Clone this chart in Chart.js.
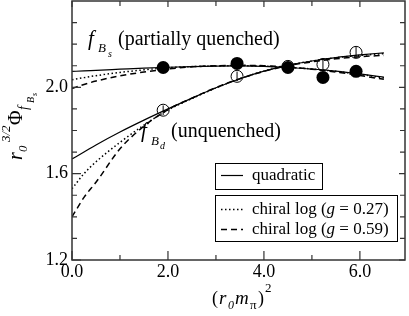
<!DOCTYPE html>
<html lang="en">
<head>
  <meta charset="UTF-8" />
  <title>fB chiral extrapolation</title>
  <script src="https://cdn.jsdelivr.net/npm/chart.js"></script>
  <style>
    body { margin: 0; background: #fff; }
    #wrap { width: 409px; height: 316px; }
  </style>
</head>
<body>
  <div id="wrap"><canvas id="fbChart" width="409" height="316"></canvas></div>

  <script>
    // lattice points, (r0 m_pi)^2
    const xPts = [1.90, 3.44, 4.50, 5.23, 5.92];
    const bsVals = [2.092, 2.111, 2.092, 2.046, 2.074];   // f_Bs, filled
    const bdVals = [1.894, 2.051, 2.097, 2.106, 2.162];   // f_Bd, open
    const bdErr = [0.022, 0.022, 0.022, 0.025, 0.025];

    // fit curves
    const curveX = [0, 0.25, 0.5, 1, 1.5, 2, 2.5, 3, 3.5, 4, 4.5, 5, 5.5, 6, 6.5];
    const bsQuad = [2.074, 2.076, 2.079, 2.084, 2.089, 2.093, 2.096, 2.098, 2.099, 2.097, 2.092, 2.085, 2.075, 2.062, 2.047];
    const bsDot  = [2.035, 2.045, 2.054, 2.069, 2.081, 2.091, 2.096, 2.099, 2.100, 2.098, 2.093, 2.085, 2.074, 2.060, 2.044];
    const bsDash = [1.995, 2.013, 2.029, 2.053, 2.071, 2.085, 2.095, 2.100, 2.102, 2.100, 2.094, 2.084, 2.071, 2.055, 2.037];
    const bdQuad = [1.668, 1.700, 1.733, 1.793, 1.848, 1.900, 1.950, 1.998, 2.040, 2.075, 2.102, 2.122, 2.138, 2.150, 2.160];
    const bdDot  = [1.530, 1.600, 1.655, 1.745, 1.825, 1.895, 1.948, 1.997, 2.040, 2.075, 2.102, 2.122, 2.137, 2.148, 2.156];
    const bdDash = [1.400, 1.490, 1.560, 1.715, 1.820, 1.897, 1.950, 1.999, 2.040, 2.074, 2.100, 2.118, 2.132, 2.142, 2.148];

    const xLabelTicks = [0, 2, 4, 6];
    const xMinorTicks = [1, 3, 5];
    const yLabelTicks = [1.2, 1.6, 2.0];
    const yMinorTicks = [1.3, 1.4, 1.5, 1.7, 1.8, 1.9, 2.1, 2.2, 2.3];

    const SERIF = "'Liberation Serif', 'DejaVu Serif', serif";
    const pts = (xs, ys) => xs.map((x, i) => ({ x, y: ys[i] }));

    function curve(ys, dash, width) {
      return {
        data: pts(curveX, ys), showLine: true, pointRadius: 0,
        borderColor: '#000', borderWidth: width, borderDash: dash,
        cubicInterpolationMode: 'monotone', order: 2
      };
    }

    // draw text pieces at given offsets
    function pieces(ctx, list) {
      list.forEach(p => {
        ctx.font = p.f;
        ctx.fillText(p.t, p.x, p.y);
      });
    }

    function runText(ctx, x, y, parts) {
      parts.forEach(p => {
        ctx.font = p.f;
        ctx.fillText(p.t, x, y + (p.dy || 0));
        x += ctx.measureText(p.t).width;
      });
    }

    function noPad(s) {
      s.paddingTop = 0; s.paddingBottom = 0;
      s.paddingLeft = 0; s.paddingRight = 0;
    }

    const deco = {
      id: 'deco',
      afterDatasetsDraw(chart) {
        const { ctx, scales: { x, y } } = chart;
        ctx.save();
        ctx.strokeStyle = '#000';
        ctx.lineWidth = 1;
        xPts.forEach((v, i) => {
          const px = x.getPixelForValue(v);
          ctx.beginPath();
          ctx.moveTo(px, y.getPixelForValue(bdVals[i] - bdErr[i]));
          ctx.lineTo(px, y.getPixelForValue(bdVals[i] + bdErr[i]));
          ctx.stroke();
        });
        ctx.restore();
      },
      afterDraw(chart) {
        const { ctx, chartArea: a, scales: { x, y } } = chart;
        ctx.save();
        // frame
        ctx.strokeStyle = '#333';
        ctx.lineWidth = 1.5;
        ctx.strokeRect(a.left, a.top, a.right - a.left, a.bottom - a.top);
        // inside ticks on all sides
        ctx.lineWidth = 1.2;
        ctx.beginPath();
        const xt = (v, len, lenTop) => {
          const px = x.getPixelForValue(v);
          ctx.moveTo(px, a.bottom); ctx.lineTo(px, a.bottom - len);
          ctx.moveTo(px, a.top); ctx.lineTo(px, a.top + lenTop);
        };
        const yt = (v, len, lenR) => {
          const py = y.getPixelForValue(v);
          ctx.moveTo(a.left, py); ctx.lineTo(a.left + len, py);
          ctx.moveTo(a.right, py); ctx.lineTo(a.right - lenR, py);
        };
        xLabelTicks.forEach(v => xt(v, 9, 6));
        xMinorTicks.forEach(v => xt(v, 5, 5));
        yLabelTicks.forEach(v => yt(v, 9, 6));
        yMinorTicks.forEach(v => yt(v, 5, 5));
        ctx.stroke();

        ctx.fillStyle = '#000';
        ctx.textBaseline = 'alphabetic';
        ctx.textAlign = 'left';

        // curve labels
        pieces(ctx, [
          { t: 'f', f: 'italic 21px ' + SERIF, x: 88, y: 45 },
          { t: 'B', f: 'italic 13px ' + SERIF, x: 98, y: 52 },
          { t: 's', f: 'italic 10px ' + SERIF, x: 108, y: 57 },
          { t: '(partially quenched)', f: '20px ' + SERIF, x: 118, y: 45 },
          { t: 'f', f: 'italic 21px ' + SERIF, x: 141, y: 137 },
          { t: 'B', f: 'italic 13px ' + SERIF, x: 151, y: 145 },
          { t: 'd', f: 'italic 10px ' + SERIF, x: 160, y: 149 },
          { t: '(unquenched)', f: '20px ' + SERIF, x: 171, y: 137 }
        ]);

        // x axis title
        pieces(ctx, [
          { t: '(', f: '18px ' + SERIF, x: 212, y: 304 },
          { t: 'r', f: 'italic 19px ' + SERIF, x: 219, y: 304 },
          { t: '0', f: 'italic 12px ' + SERIF, x: 228, y: 309 },
          { t: 'm', f: 'italic 19px ' + SERIF, x: 235, y: 304 },
          { t: 'π', f: '13px ' + SERIF, x: 250, y: 309 },
          { t: ')', f: '18px ' + SERIF, x: 258, y: 304 },
          { t: '2', f: '13px ' + SERIF, x: 265, y: 292 }
        ]);

        // y axis title, rotated
        ctx.save();
        ctx.translate(22, 160);
        ctx.rotate(-Math.PI / 2);
        pieces(ctx, [
          { t: 'r', f: 'italic 20px ' + SERIF, x: 0, y: 0 },
          { t: '0', f: 'italic 13px ' + SERIF, x: 8, y: 5 },
          { t: '3/2', f: 'italic 13px ' + SERIF, x: 18, y: -12 },
          { t: 'Φ', f: '20px ' + SERIF, x: 35, y: 0 },
          { t: 'f', f: 'italic 14px ' + SERIF, x: 50, y: 6 },
          { t: 'B', f: 'italic 10px ' + SERIF, x: 57, y: 12 },
          { t: 's', f: 'italic 8px ' + SERIF, x: 64, y: 15 }
        ]);
        ctx.restore();

        // legend boxes
        ctx.strokeStyle = '#000';
        ctx.lineWidth = 1;
        ctx.strokeRect(215.5, 163.5, 107, 26);
        ctx.strokeRect(215.5, 195.5, 182, 46);
        const sample = (yy, dash, w) => {
          ctx.setLineDash(dash);
          ctx.lineWidth = w;
          ctx.beginPath();
          ctx.moveTo(221, yy); ctx.lineTo(243, yy);
          ctx.stroke();
        };
        sample(175.5, [], 1.2);
        sample(209.5, [1.5, 2.5], 1.5);
        sample(229.5, [6, 4], 1.5);
        ctx.setLineDash([]);
        const rom = '17px ' + SERIF, ita = 'italic 17px ' + SERIF;
        runText(ctx, 252, 180, [{ t: 'quadratic', f: rom }]);
        runText(ctx, 252, 214, [{ t: 'chiral log (', f: rom }, { t: 'g', f: ita }, { t: ' = 0.27)', f: rom }]);
        runText(ctx, 252, 234, [{ t: 'chiral log (', f: rom }, { t: 'g', f: ita }, { t: ' = 0.59)', f: rom }]);
        ctx.restore();
      }
    };

    const tickFont = { family: SERIF, size: 18 };

    new Chart(document.getElementById('fbChart'), {
      type: 'scatter',
      data: {
        datasets: [
          { data: pts(xPts, bsVals), pointRadius: 6.5, pointBackgroundColor: '#000', pointBorderColor: '#000', pointBorderWidth: 0, order: 0 },
          { data: pts(xPts, bdVals), pointRadius: 6, pointBackgroundColor: 'rgba(0,0,0,0)', pointBorderColor: '#000', pointBorderWidth: 1, order: 1 },
          curve(bsQuad, [], 1.2),
          curve(bsDot, [1.5, 2.5], 1.5),
          curve(bsDash, [6, 4], 1.5),
          curve(bdQuad, [], 1.2),
          curve(bdDot, [1.5, 2.5], 1.5),
          curve(bdDash, [6, 4], 1.5)
        ]
      },
      options: {
        responsive: false,
        animation: false,
        layout: { autoPadding: false, padding: { top: 1, right: 4, left: 0, bottom: 0 } },
        plugins: { legend: { display: false }, tooltip: { enabled: false } },
        scales: {
          x: {
            type: 'linear', min: 0, max: 6.94,
            grid: { display: false, drawTicks: false },
            border: { display: false },
            ticks: { color: '#000', font: tickFont, padding: 1, maxRotation: 0, autoSkip: false,
              callback: v => v.toFixed(1) },
            afterBuildTicks: s => { s.ticks = xLabelTicks.map(v => ({ value: v })); },
            afterFit: s => { s.height = 56; noPad(s); }
          },
          y: {
            type: 'linear', min: 1.2, max: 2.4,
            grid: { display: false, drawTicks: false },
            border: { display: false },
            ticks: { color: '#000', font: tickFont, padding: 4, autoSkip: false,
              callback: v => v.toFixed(1) },
            afterBuildTicks: s => { s.ticks = yLabelTicks.map(v => ({ value: v })); },
            afterFit: s => { s.width = 72; noPad(s); }
          }
        }
      },
      plugins: [deco]
    });
  </script>
</body>
</html>
